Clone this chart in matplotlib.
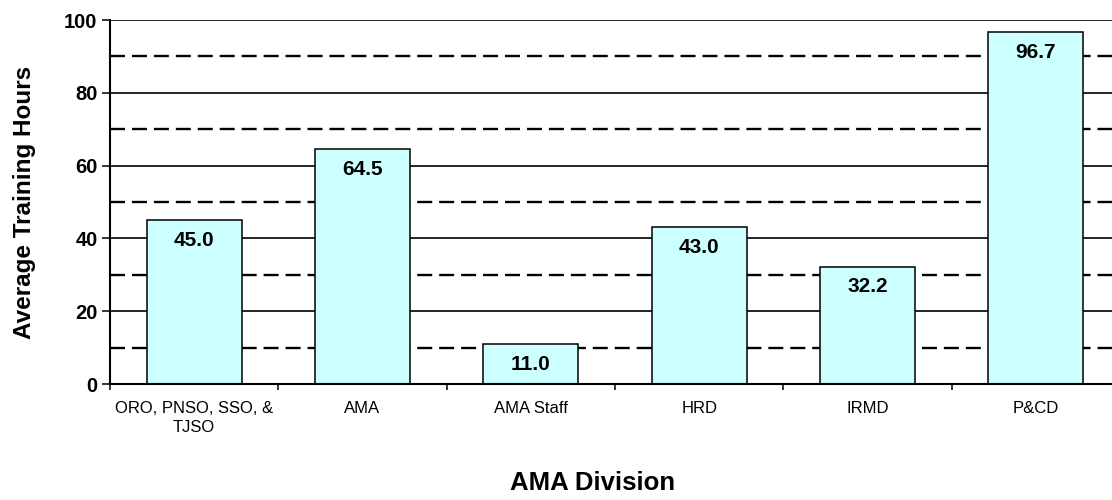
import numpy as np
import matplotlib
matplotlib.use("Agg")
import matplotlib.pyplot as plt

# data
divisions = ["ORO, PNSO, SSO, &\nTJSO", "AMA", "AMA Staff", "HRD", "IRMD", "P&CD"]
avg_hours = [45.0, 64.5, 11.0, 43.0, 32.2, 96.7]

plt.rcParams['font.family'] = ['Liberation Sans', 'DejaVu Sans']
plt.rcParams['lines.scale_dashes'] = False

fig = plt.figure(figsize=(11.12, 5.0), dpi=100)
ax = fig.add_axes([110 / 1112, 116 / 500, 1010 / 1112, 364 / 500])

x = np.arange(len(divisions))
ax.set_axisbelow(True)

# gridlines: solid at 20s, dashed at the odd tens
for y in range(20, 101, 20):
    ax.axhline(y, color='black', lw=1.2, zorder=0)
for y in range(10, 100, 20):
    ax.axhline(y, color='black', lw=1.7, dashes=(10.8, 5.0), zorder=0)

bars = ax.bar(x, avg_hours, width=0.565, color='#CCFFFF', edgecolor='black',
              linewidth=1.1, zorder=2)

for xi, v in zip(x, avg_hours):
    ax.annotate(f"{v:.1f}", (xi, v), xytext=(0, -14.5), textcoords='offset points',
                ha='center', va='center', fontsize=15, fontweight='bold', zorder=3)

ax.set_xlim(-0.5, len(divisions) - 0.5)
ax.set_ylim(0, 100)
ax.set_yticks(range(0, 101, 20))
ax.tick_params(axis='y', length=6, width=1.1, labelsize=14.5, pad=3)
for lbl in ax.get_yticklabels():
    lbl.set_fontweight('bold')

ax.set_xticks(x)
ax.set_xticklabels(divisions, fontsize=12, linespacing=1.35)
ax.set_xticks(np.arange(-0.5, len(divisions), 1.0), minor=True)
ax.tick_params(axis='x', which='major', length=0, pad=12)
ax.tick_params(axis='x', which='minor', length=4, width=1.1)

for s in ['top', 'right']:
    ax.spines[s].set_visible(False)
for s in ['left', 'bottom']:
    ax.spines[s].set_linewidth(1.5)

ax.set_ylabel("Average Training Hours", fontsize=17.5, fontweight='bold')
ax.yaxis.set_label_coords(-74 / 1010, 0.5)
fig.text(593 / 1112, 1 - 483 / 500, "AMA Division", fontsize=18.5, fontweight='bold',
         ha='center', va='center')

fig.savefig("out.png", dpi=100)
